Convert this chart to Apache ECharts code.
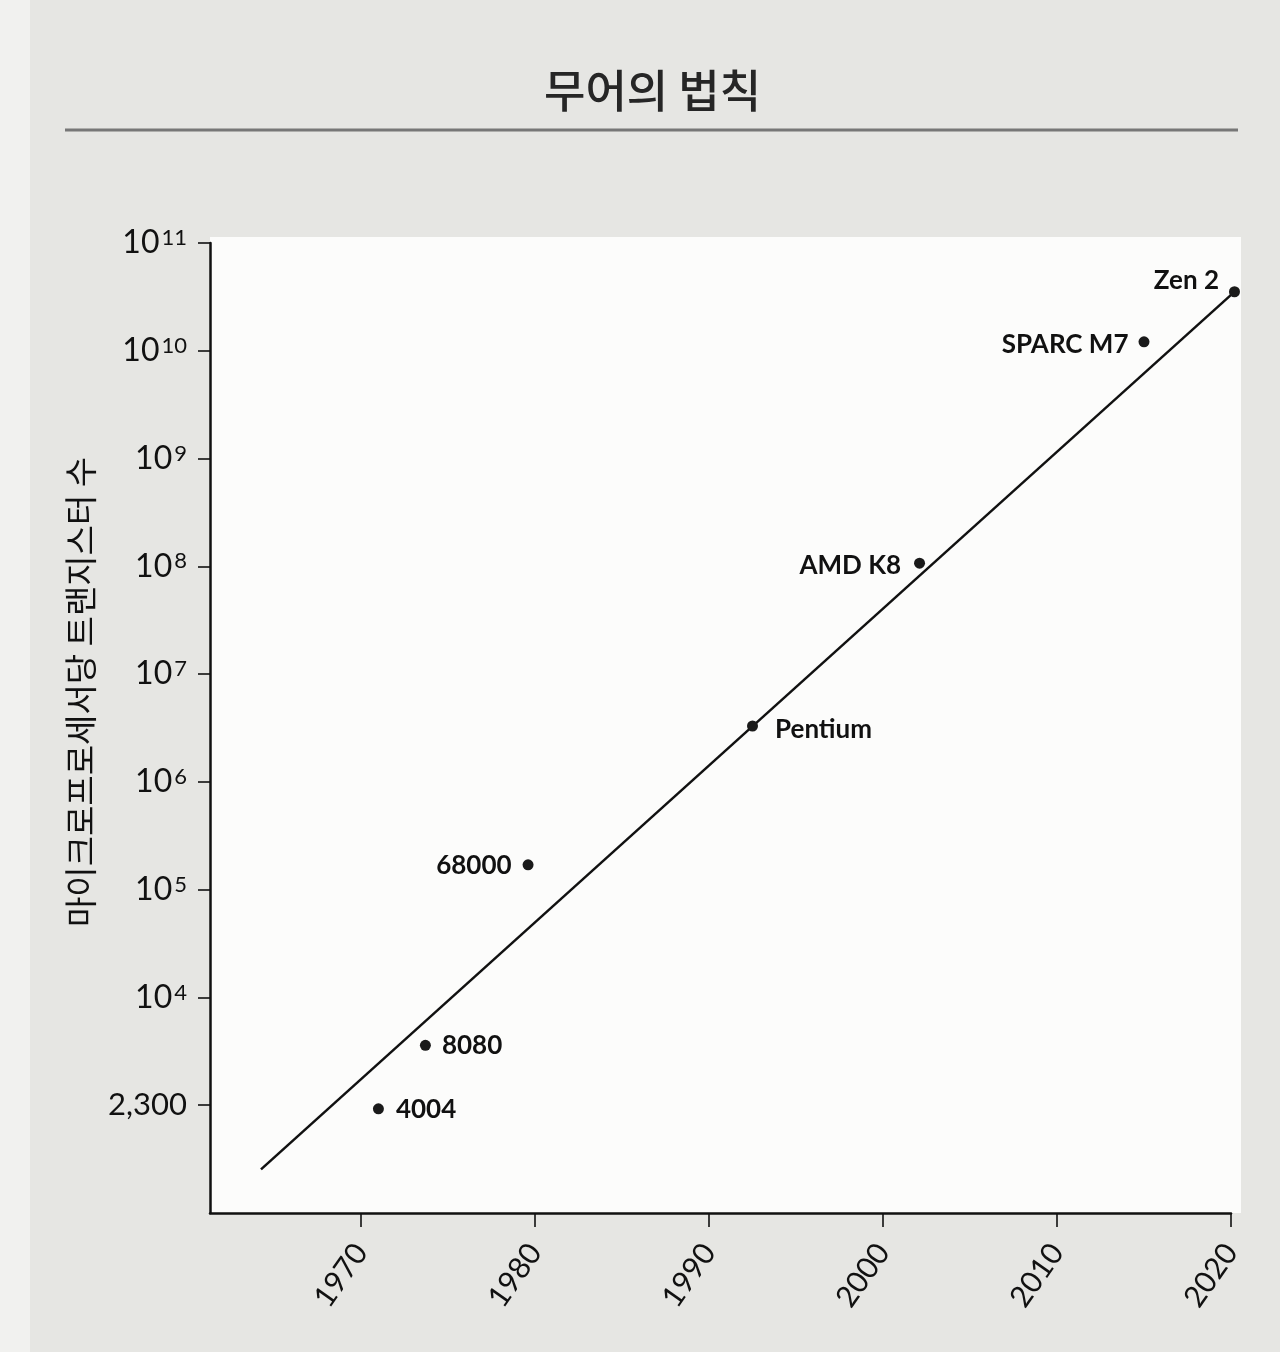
<!DOCTYPE html>
<html>
<head>
<meta charset="utf-8">
<script src="https://cdn.jsdelivr.net/npm/echarts@6/dist/echarts.min.js"></script>
<style>
html,body{margin:0;padding:0;background:#e6e6e3;}
#c{width:1280px;height:1352px;}
</style>
</head>
<body>
<div id="c"></div>
<script>
// ---- data ----
const chips = ['4004', '8080', '68000', 'Pentium', 'AMD K8', 'SPARC M7', 'Zen 2'];
const years = [1971.0, 1973.7, 1979.6, 1992.5, 2002.1, 2015.0, 2020.2];
const transistors = [925, 3600, 170000, 3.3e6, 1.07e8, 1.21e10, 3.53e10];
const trendYears = [1964.25, 2020.2];
const trendValues = [254, 3.53e10];
const xTickValues = [1970, 1980, 1990, 2000, 2010, 2020];
const yTickValues = [1e3, 1e4, 1e5, 1e6, 1e7, 1e8, 1e9, 1e10, 1e11];
const yTickLabels = ['2,300', '10^4', '10^5', '10^6', '10^7', '10^8', '10^9', '10^10', '10^11'];

// ---- label placement (style, not data) ----
const labelPlacement = {
  '4004':     {position: 'right', distance: 12, offset: [0, 1]},
  '8080':     {position: 'right', distance: 11, offset: [0, 0]},
  '68000':    {position: 'left',  distance: 11, offset: [0, 1]},
  'Pentium':  {position: 'right', distance: 17, offset: [0, 4]},
  'AMD K8':   {position: 'left',  distance: 13, offset: [0, 2]},
  'SPARC M7': {position: 'left',  distance: 10, offset: [0, 3]},
  'Zen 2':    {position: 'left',  distance: 10, offset: [0, -11]}
};

const FONT = 'Lato, "Open Sans", sans-serif';
const KFONT = '"Noto Sans CJK KR", sans-serif';
const INK = '#111111';

function yLabel(v) {
  const i = yTickValues.findIndex(t => Math.abs(Math.log10(t) - Math.log10(v)) < 1e-6);
  if (i < 0) return '';
  const s = yTickLabels[i];
  if (s.indexOf('^') < 0) return '{p|' + s + '}';
  const parts = s.split('^');
  return '{b|' + parts[0] + '}{s|' + parts[1] + '}';
}

const scatterData = chips.map((name, i) => {
  const lp = labelPlacement[name];
  return {
    name: name,
    value: [years[i], transistors[i]],
    label: {show: true, formatter: name, position: lp.position, distance: lp.distance, offset: lp.offset,
            color: INK, fontFamily: FONT, fontSize: 26, fontWeight: 'bold'}
  };
});

const chart = echarts.init(document.getElementById('c'), null, {renderer: 'canvas'});
chart.setOption({
  backgroundColor: '#e6e6e3',
  animation: false,
  title: {
    text: '무어의 법칙',
    left: 539,
    top: 63,
    textStyle: {fontFamily: KFONT, fontSize: 45, fontWeight: 500, color: '#262626'}
  },
  graphic: [
    {type: 'rect', z: -10, shape: {x: 0, y: 0, width: 30, height: 1352}, style: {fill: '#f1f1ef'}},
    {type: 'rect', z: -5, shape: {x: 210, y: 237, width: 1031, height: 976}, style: {fill: '#fcfcfb'}},
    {type: 'line', shape: {x1: 65, y1: 130, x2: 1238, y2: 130}, style: {stroke: '#777777', lineWidth: 3}},
    {type: 'text', x: 80, y: 692, rotation: Math.PI / 2,
     style: {text: '마이크로프로세서당 트랜지스터 수', font: '33px ' + KFONT, fill: INK,
             textAlign: 'center', textVerticalAlign: 'middle'}}
  ],
  grid: {left: 210, right: 49, top: 243, bottom: 139, containLabel: false},
  xAxis: {
    type: 'value',
    min: 1961.32,
    max: 2020,
    axisLine: {show: true, lineStyle: {color: INK, width: 2.5}},
    axisTick: {show: true, customValues: xTickValues, length: 14, lineStyle: {color: INK, width: 1.6}},
    axisLabel: {
      show: true, customValues: xTickValues, rotate: 55, margin: 34,
      fontFamily: FONT, fontSize: 30, color: INK,
      formatter: v => String(Math.round(v))
    },
    splitLine: {show: false}
  },
  yAxis: {
    type: 'log',
    logBase: 10,
    min: 100,
    max: 1e11,
    axisLine: {show: true, lineStyle: {color: INK, width: 2.5}},
    axisTick: {show: true, customValues: yTickValues, length: 12, lineStyle: {color: INK, width: 1.6}},
    minorTick: {show: false},
    axisLabel: {
      show: true, customValues: yTickValues, margin: 23,
      formatter: yLabel,
      rich: {
        b: {fontFamily: FONT, fontSize: 32, color: INK, lineHeight: 32},
        s: {fontFamily: FONT, fontSize: 22, color: INK, lineHeight: 12, verticalAlign: 'top', padding: [0, 0, 0, 2]},
        p: {fontFamily: FONT, fontSize: 31, color: INK, lineHeight: 32}
      }
    },
    splitLine: {show: false}
  },
  series: [
    {
      type: 'line',
      data: trendYears.map((y, i) => [y, trendValues[i]]),
      showSymbol: false,
      clip: false,
      silent: true,
      lineStyle: {color: '#111111', width: 2.5},
      z: 2
    },
    {
      type: 'scatter',
      data: scatterData,
      symbolSize: 11,
      clip: false,
      itemStyle: {color: '#1a1a1a', opacity: 1},
      label: {fontFamily: FONT, fontSize: 26, fontWeight: 'bold', color: INK},
      z: 3
    }
  ]
});
</script>
</body>
</html>
